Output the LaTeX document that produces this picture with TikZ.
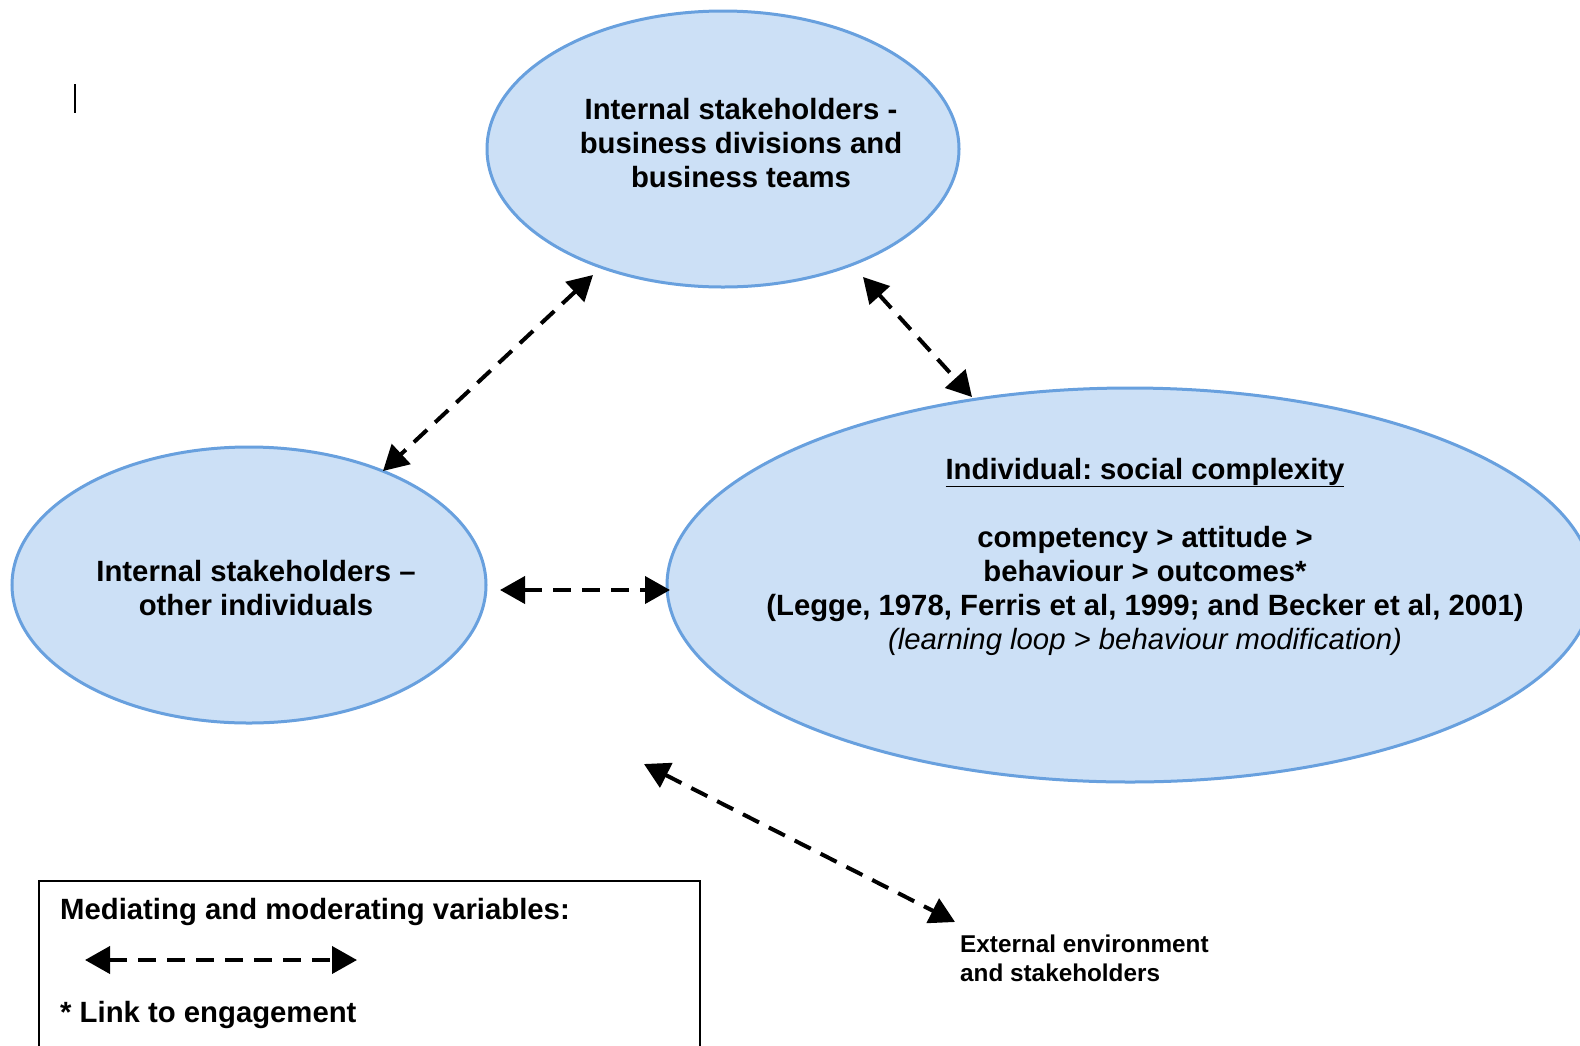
\documentclass[tikz,border=0pt]{standalone}
\usepackage{fontspec}
\setmainfont{Liberation Sans}
\usetikzlibrary{arrows.meta,shapes.geometric}
\definecolor{ellfill}{RGB}{204,224,246}
\definecolor{elldraw}{RGB}{104,160,222}
\frenchspacing
\begin{document}
\begin{tikzpicture}[x=1pt,y=-1pt,
  bubble/.style={ellipse, draw=elldraw, fill=ellfill, line width=3pt, inner sep=0pt},
  txt/.style={anchor=base, inner sep=0pt, font=\fontsize{29.3}{34}\selectfont\bfseries},
  itxt/.style={anchor=base, inner sep=0pt, font=\fontsize{29.3}{34}\selectfont\itshape},
  lgd/.style={anchor=base west, inner sep=0pt, font=\fontsize{29.3}{34}\selectfont\bfseries},
  ext/.style={anchor=base west, inner sep=0pt, font=\fontsize{24.3}{29}\selectfont\bfseries},
  link/.style={line width=4pt, dash pattern=on 18pt off 11pt,
    {Triangle[length=25pt,width=27pt]}-{Triangle[length=25pt,width=27pt]}}
]
\useasboundingbox (0,0) rectangle (1580,1045);
\clip (0,0) rectangle (1580,1045);
\fill[white] (0,0) rectangle (1580,1045);

% ellipses
\node[bubble, minimum width=472pt, minimum height=276pt] (top) at (723,149) {};
\node[bubble, minimum width=474pt, minimum height=276pt] (left) at (249,585) {};
\node[bubble, minimum width=926pt, minimum height=394pt] (right) at (1130,585) {};

% texts
\node[txt] (t1) at (741,119) {Internal stakeholders -};
\node[txt] (t2) at (741,153) {business divisions and};
\node[txt] (t3) at (741,187) {business teams};

\node[txt] (l1) at (256,581) {Internal stakeholders –};
\node[txt] (l2) at (256,615) {other individuals};

\node[txt] (r0) at (1145,479) {\underline{Individual: social complexity}};
\node[txt] (r1) at (1145,547) {competency > attitude >};
\node[txt] (r2) at (1145,581) {behaviour > outcomes*};
\node[txt] (r3) at (1145,615) {(Legge, 1978, Ferris et al, 1999; and Becker et al, 2001)};
\node[itxt] (r4) at (1145,649) {(learning loop > behaviour modification)};

\node[ext] (e1) at (960,952) {External environment};
\node[ext] (e2) at (960,981) {and stakeholders};

% small bar
\draw[line width=2pt] (75,84) -- (75,113);

% connector end points
\coordinate (a1s) at (593,275);
\coordinate (a1e) at (383,471);
\coordinate (a2s) at (863,277);
\coordinate (a2e) at (972,397);
\coordinate (a3s) at (500,590);
\coordinate (a3e) at (670,590);
\coordinate (a4s) at (644,764);
\coordinate (a4e) at (955,922);
\coordinate (lgs) at (85,960);
\coordinate (lge) at (357,960);

\draw[link] (a1s) -- (a1e);
\draw[link] (a2s) -- (a2e);
\draw[link] (a3s) -- (a3e);
\draw[link] (a4s) -- (a4e);

% legend
\draw[line width=2pt] (39,1060) -- (39,881) -- (700,881) -- (700,1060);
\node[lgd] (g1) at (60,919) {Mediating and moderating variables:};
\draw[link] (lgs) -- (lge);
\node[lgd] (g2) at (60,1022) {* Link to engagement};
\end{tikzpicture}
\end{document}
